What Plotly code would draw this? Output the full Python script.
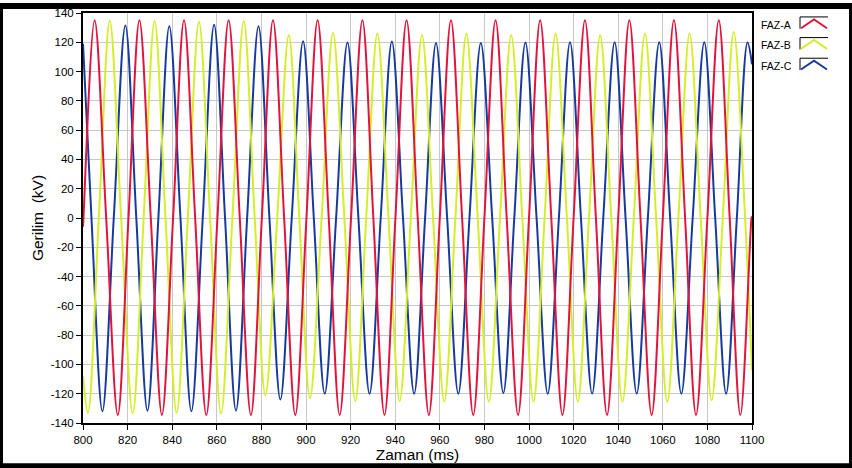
import plotly.graph_objects as go

# ---- data (time in ms, voltage in kV) ----
faz_a_t = [800.0, 800.2, 805.2, 810.4, 815.6, 820.4, 825.3, 830.4, 835.4, 840.4, 845.3,
           850.3, 855.3, 860.3, 865.3, 870.3, 875.3, 880.2, 885.2, 890.2, 895.2,
           900.2, 905.2, 910.2, 915.1, 920.2, 925.3, 930.2, 935.2, 940.1, 945.1,
           950.1, 955.1, 960.0, 965.0, 970.0, 975.0, 980.0, 985.0, 990.0, 995.1,
           1000.0, 1005.0, 1010.0, 1015.0, 1020.0, 1025.1, 1030.0, 1035.0, 1040.0, 1045.0,
           1050.0, 1055.0, 1060.0, 1065.0, 1070.0, 1074.9, 1080.0, 1085.1, 1090.0, 1094.8,
           1099.8, 1100.0]
faz_a_v = [-6, 0, 135, 0, -134.5, 0, 135, 0, -134.5, 0, 135,
           0, -134.5, 0, 135, 0, -134.5, 0, 135, 0, -134.5,
           0, 135, 0, -134.5, 0, 135, 0, -134.5, 0, 135,
           0, -134.5, 0, 135, 0, -134.5, 0, 135, 0, -134.5,
           0, 135, 0, -134.5, 0, 135, 0, -134.5, 0, 135,
           0, -134.5, 0, 135, 0, -134.5, 0, 135, 0, -134.5,
           0, 1]

faz_b_t = [800.0, 802.2, 807.1, 812.0, 817.1, 822.3, 827.2, 832.1, 837.0, 842.0,
           847.0, 852.0, 857.0, 861.9, 867.0, 872.1, 877.0, 881.8, 887.1, 892.3,
           897.0, 901.8, 907.0, 912.1, 917.2, 922.1, 927.0, 932.0, 937.0, 942.0,
           947.0, 952.0, 957.0, 962.0, 967.0, 971.9, 977.0, 982.0, 987.0, 992.0,
           997.0, 1002.0, 1007.0, 1011.9, 1017.0, 1021.9, 1026.9, 1031.9, 1036.9, 1041.9,
           1047.0, 1052.0, 1057.0, 1062.0, 1067.0, 1072.0, 1077.0, 1081.9, 1086.9, 1091.8,
           1096.9, 1100.0]
faz_b_v = [-108, -133, 0, 134.8, 0, -133.5, 0, 134.5, 0, -133,
           0, 134, 0, -133.5, 0, 134.5, 0, -121, 0, 125,
           0, -123, 0, 126.5, 0, -125, 0, 126, 0, -125,
           0, 125, 0, -125.5, 0, 126, 0, -125.5, 0, 125,
           0, -125.5, 0, 126, 0, -125.5, 0, 125, 0, -125.5,
           0, 126, 0, -125.5, 0, 126, 0, -124.5, 0, 127,
           0, -104]

faz_c_t = [800.0, 803.8, 808.7, 813.8, 819.0, 823.9, 828.9, 833.8, 838.7, 843.7,
           848.6, 853.7, 858.8, 863.7, 868.6, 873.6, 878.7, 883.6, 888.5, 893.6,
           898.7, 903.5, 908.4, 913.5, 918.6, 923.5, 928.5, 933.5, 938.5, 943.5,
           948.5, 953.4, 958.3, 963.3, 968.3, 973.3, 978.4, 983.5, 988.5, 993.4,
           998.4, 1003.4, 1008.4, 1013.4, 1018.4, 1023.3, 1028.3, 1033.3, 1038.4, 1043.3,
           1048.3, 1053.3, 1058.4, 1063.3, 1068.3, 1073.4, 1078.6, 1083.5, 1088.4, 1093.2,
           1098.0, 1100.0]
faz_c_v = [119, 0, -132, 0, 131.5, 0, -131.6, 0, 131, 0,
           -132, 0, 132, 0, -131.6, 0, 131, 0, -124, 0,
           120.7, 0, -120, 0, 119.8, 0, -120, 0, 120.5, 0,
           -120, 0, 119.5, 0, -120, 0, 119.5, 0, -119.5, 0,
           119.8, 0, -120, 0, 120, 0, -120, 0, 120, 0,
           -120, 0, 120, 0, -120, 0, 120, 0, -120, 0,
           119.8, 105]

series_names = ["FAZ-A", "FAZ-B", "FAZ-C"]
series_colors = ["#E0143C", "#D4EE2A", "#173A9E"]
x_ticks = list(range(800, 1101, 20))
y_ticks = list(range(-140, 141, 20))

FONT = "Liberation Sans"

fig = go.Figure()
data = [(faz_a_t, faz_a_v), (faz_b_t, faz_b_v), (faz_c_t, faz_c_v)]
# draw C, B first so A sits on top
for i in [2, 1, 0]:
    t, v = data[i]
    fig.add_trace(go.Scatter(x=t, y=v, mode="lines", name=series_names[i],
                             line=dict(color=series_colors[i], width=2,
                                       shape="spline", smoothing=1.0),
                             showlegend=False, hoverinfo="skip"))

W, H = 852, 468
L, R, T, B = 83, 100, 7, 44
PW, PH = W - L - R, H - T - B

def px(x):
    return (x - L) / PW

def py(y):
    return (H - B - y) / PH

shapes = []
annotations = []
# outer black frame
shapes.append(dict(type="rect", xref="paper", yref="paper",
                   x0=px(0), x1=px(W), y0=py(H), y1=py(0),
                   line=dict(color="black", width=6), layer="above"))
# custom legend (text left, swatch on the right)
legend_text_y = [19, 40, 61]
legend_box_top = [11, 32, 53]
for i, name in enumerate(series_names):
    annotations.append(dict(text=name, xref="paper", yref="paper",
                            x=px(759), y=py(legend_text_y[i]),
                            xanchor="left", yanchor="middle", showarrow=False,
                            font=dict(family=FONT, size=10.5, color="black")))
    top = legend_box_top[i]
    bot = top + 12
    shapes.append(dict(type="path", xref="paper", yref="paper",
                       path=f"M {px(800)} {py(bot)} L {px(800)} {py(top)} L {px(828)} {py(top)}",
                       line=dict(color="black", width=1)))
    shapes.append(dict(type="path", xref="paper", yref="paper",
                       path=f"M {px(801)} {py(bot - 0.5)} L {px(814)} {py(top + 2.5)} L {px(827)} {py(bot - 0.5)}",
                       line=dict(color=series_colors[i], width=2)))

fig.update_layout(
    width=W, height=H,
    margin=dict(l=L, r=R, t=T, b=B, pad=0),
    paper_bgcolor="white", plot_bgcolor="white",
    font=dict(family=FONT, size=11.5, color="black"),
    shapes=shapes, annotations=annotations,
    showlegend=False,
)
fig.update_xaxes(range=[800, 1100], tickvals=x_ticks, ticktext=[str(v) for v in x_ticks],
                 showgrid=True, gridcolor="#C8C8C8", gridwidth=1,
                 showline=True, linecolor="black", linewidth=2, mirror=True,
                 ticks="outside", ticklen=5, tickcolor="black", tickwidth=1,
                 zeroline=False,
                 title=dict(text="Zaman (ms)", standoff=4,
                            font=dict(family=FONT, size=15.5, color="black")))
fig.update_yaxes(range=[-140, 140], tickvals=y_ticks, ticktext=[str(v) for v in y_ticks],
                 showgrid=True, gridcolor="#C8C8C8", gridwidth=1,
                 showline=True, linecolor="black", linewidth=2, mirror=True,
                 ticks="outside", ticklen=5, tickcolor="black", tickwidth=1,
                 zeroline=False,
                 title=dict(text="Gerilim  (kV)", standoff=3,
                            font=dict(family=FONT, size=15.5, color="black")))

fig.write_html("out.html", config={"displayModeBar": False})
